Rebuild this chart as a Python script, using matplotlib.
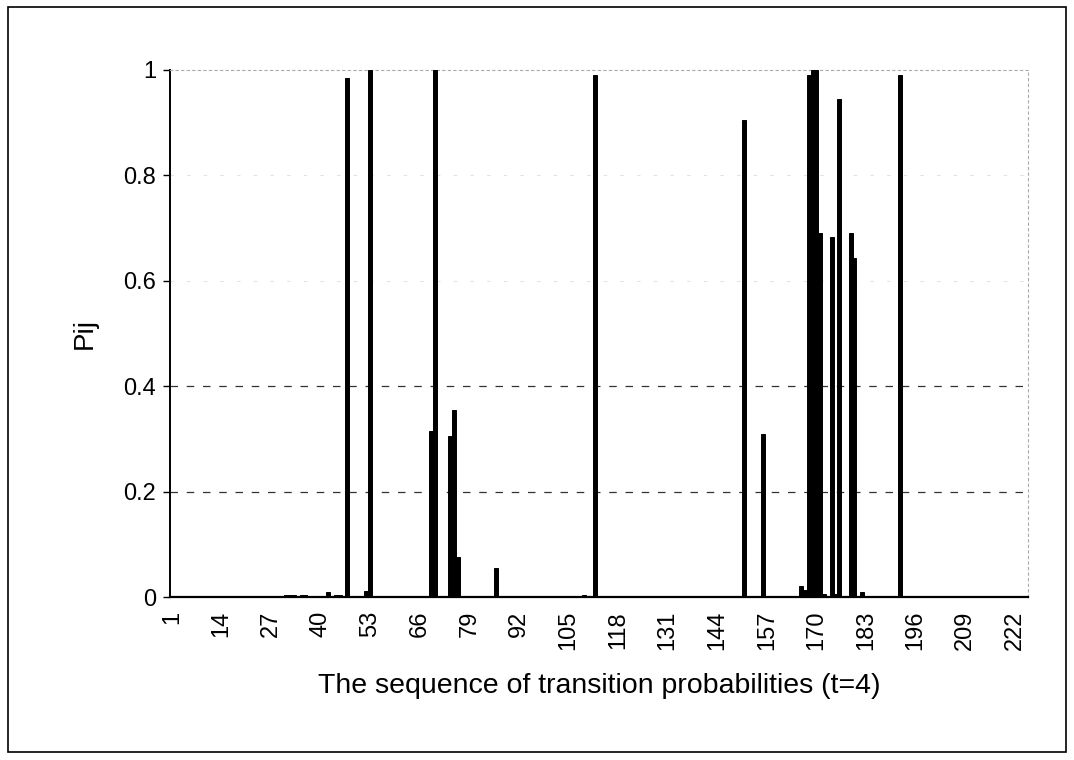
import numpy as np
import matplotlib
matplotlib.use("Agg")
import matplotlib.pyplot as plt
from matplotlib.patches import Rectangle

plt.rcParams['font.family'] = ['Liberation Sans', 'DejaVu Sans']

# Sequence of transition probabilities (t=4): 225 positions, mostly zero
n_positions = 225
nonzero_index = [19, 25, 26, 31, 32, 33, 35, 36, 42, 44, 45, 47, 52, 53,
                 69, 70, 74, 75, 76, 86, 109, 112, 151, 156,
                 166, 167, 168, 169, 170, 171, 172, 174, 175, 176,
                 179, 180, 182, 192, 200, 210, 218]
nonzero_prob = [0.002, 0.002, 0.002, 0.003, 0.003, 0.003, 0.003, 0.003, 0.010, 0.004, 0.004, 0.985, 0.012, 1.000,
                0.315, 1.000, 0.305, 0.355, 0.075, 0.055, 0.004, 0.990, 0.905, 0.310,
                0.020, 0.013, 0.990, 1.000, 1.000, 0.690, 0.005, 0.683, 0.005, 0.945,
                0.690, 0.643, 0.010, 0.990, 0.002, 0.002, 0.002]

positions = np.arange(1, n_positions + 1)
pij = np.zeros(n_positions)
pij[np.array(nonzero_index) - 1] = nonzero_prob

tick_positions = list(range(1, n_positions + 1, 13))
y_ticks = [0, 0.2, 0.4, 0.6, 0.8, 1.0]
y_tick_labels = ["0", "0.2", "0.4", "0.6", "0.8", "1"]

fig = plt.figure(figsize=(10.74, 7.6), dpi=100)
fig.patch.set_facecolor("white")
ax = fig.add_axes([170 / 1074, 1 - 597 / 760, 858 / 1074, 527 / 760])

ax.bar(positions, pij, width=1.05, color="black", edgecolor="black", linewidth=0.7, zorder=3)

ax.set_xlim(0.5, n_positions + 0.5)
ax.set_ylim(0, 1.0)

# dashed horizontal gridlines (upper ones print very faintly)
for yv in y_ticks[1:-1]:
    if yv < 0.5:
        ax.axhline(yv, color="#333333", linestyle=(0, (6, 7)), linewidth=0.9, zorder=1)
    else:
        ax.axhline(yv, color="#e2e2e2", linestyle=(0, (3, 12)), linewidth=0.8, zorder=1)

ax.set_yticks(y_ticks)
ax.set_yticklabels(y_tick_labels, fontsize=17)
ax.set_xticks(tick_positions)
ax.set_xticklabels([str(t) for t in tick_positions], rotation=90, fontsize=17)
ax.tick_params(axis="x", length=0, pad=10)
ax.tick_params(axis="y", length=5, width=1, direction="out", pad=5)

for side in ("top", "right"):
    ax.spines[side].set_color("#aaaaaa")
    ax.spines[side].set_linestyle((0, (2, 3)))
    ax.spines[side].set_linewidth(0.8)
ax.spines["left"].set_linewidth(1.4)
ax.spines["bottom"].set_linewidth(1.6)

ax.set_ylabel("Pij", fontsize=20, labelpad=18)
ax.set_xlabel("The sequence of transition probabilities (t=4)", fontsize=20.5, labelpad=16)

# chart frame
fig.add_artist(Rectangle((8 / 1074, 8 / 760), 1058 / 1074, 745 / 760,
                         transform=fig.transFigure, fill=False,
                         edgecolor="black", linewidth=1.2))

fig.savefig("out.png", dpi=100, facecolor="white")
